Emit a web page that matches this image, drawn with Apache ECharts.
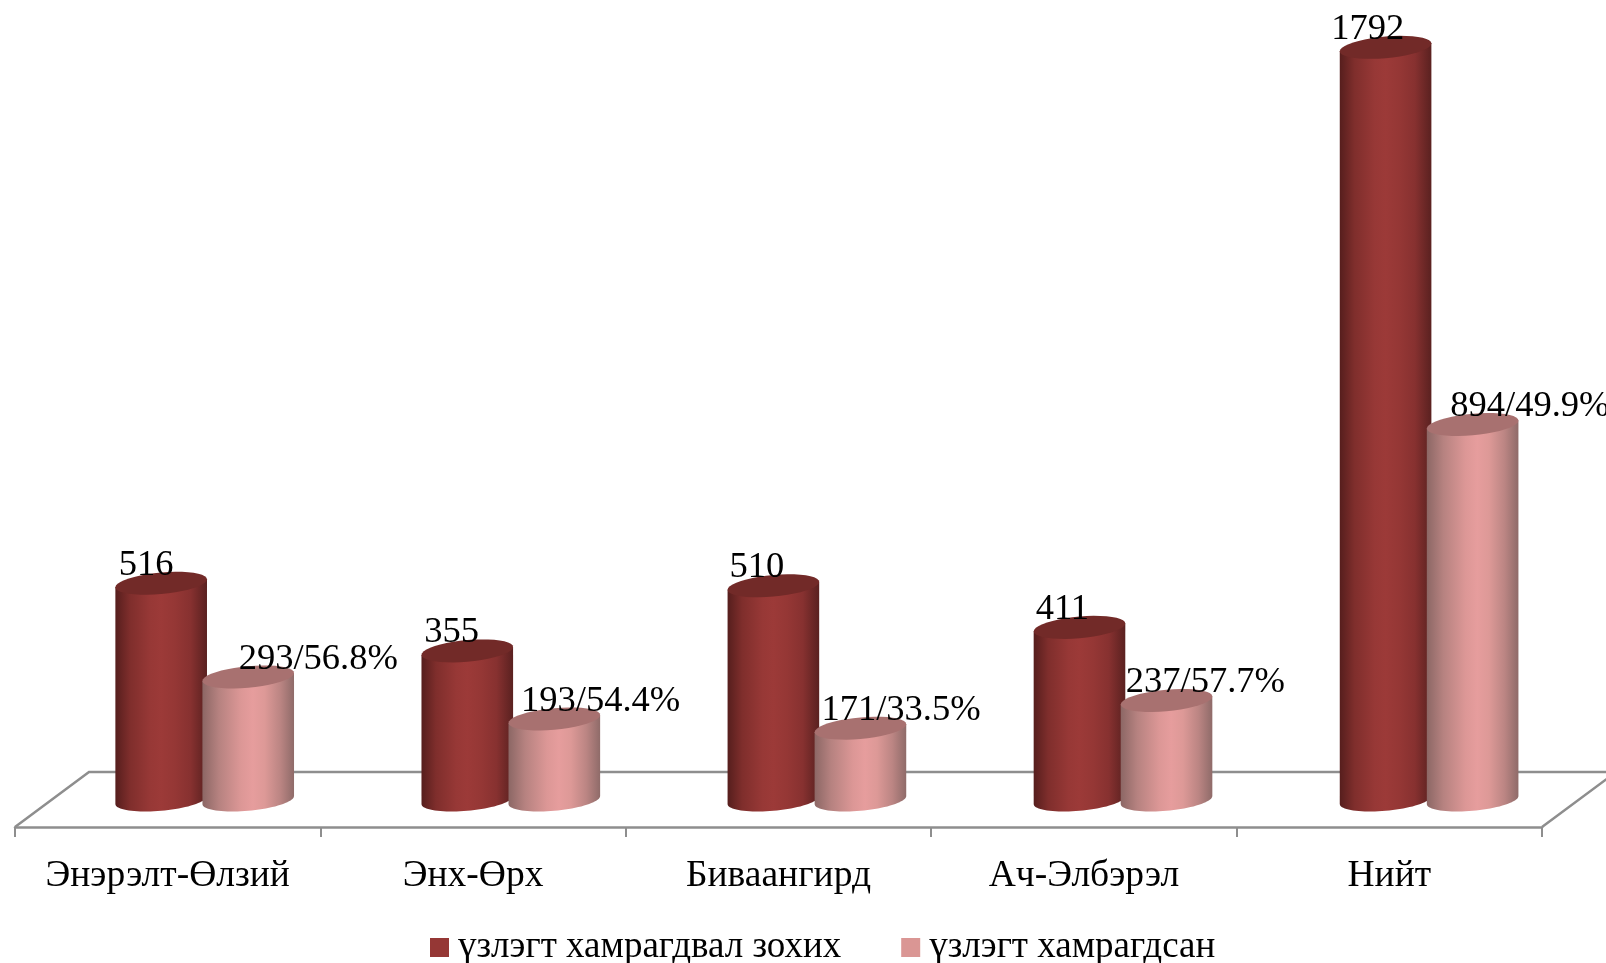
<!DOCTYPE html>
<html>
<head>
<meta charset="utf-8">
<title>үзлэгт хамрагдалт</title>
<script src="https://cdn.jsdelivr.net/npm/echarts@6/dist/echarts.min.js"></script>
<style>
    html, body {margin: 0; padding: 0; background: #fff;}
    #chart {width: 1606px; height: 963px;}
</style>
</head>
<body>
<div id="chart"></div>
<script>
var categories = ['Энэрэлт-Өлзий', 'Энх-Өрх', 'Биваангирд', 'Ач-Элбэрэл', 'Нийт'];
var seriesNames = ['үзлэгт хамрагдвал зохих', 'үзлэгт хамрагдсан'];
var shouldCover = [516, 355, 510, 411, 1792];
var covered = [293, 193, 171, 237, 894];
var coveredPct = ['56.8', '54.4', '33.5', '57.7', '49.9'];

// the labels of the second series were dragged by hand in the original
var coveredLabelShift = [70, 47, 42, 41, 60];

var FONT = '"Liberation Serif", "Times New Roman", serif';
var LINE = '#8e8e8e';
var FLOOR_X = 74, FLOOR_BACK = 28, FLOOR_FRONT = 27;
var BAR_DRIFT = 0.7; // bars step a bit wider than the ticks

var dark = {
    legend: '#953735',
    cap: '#722a28',
    side: [[0, '#561e1d'], [0.16, '#7f2e2c'], [0.38, '#973836'], [0.5, '#9c3a38'], [0.65, '#953735'], [0.82, '#873130'], [1, '#5a2120']]
};
var light = {
    legend: '#da9694',
    cap: '#a87170',
    side: [[0, '#8c6765'], [0.18, '#b68280'], [0.42, '#dc9796'], [0.55, '#e69d9d'], [0.68, '#dd9997'], [0.85, '#bb8583'], [1, '#8f6b69']]
};

// tilted ellipse, the right end sits higher than the left one
function ellipsePoints(cx, cy, a, from, to) {
    var pts = [];
    for (var i = 0; i <= 40; i++) {
        var t = from + (to - from) * i / 40;
        pts.push([cx + a * Math.cos(t), cy - 4 * Math.cos(t) + 10.8 * Math.sin(t)]);
    }
    return pts;
}

function cylinder(look, side, labelFor) {
    return function (params, api) {
        var i = api.value(0);
        var top = api.coord([i, api.value(1)]);
        var base = api.coord([i, 0]);
        var step = api.size([1, 0])[0];
        var a = step * 0.15;
        var labelX = top[0] + FLOOR_X / 2 + side * step * 0.1425;
        var cx = labelX + i * BAR_DRIFT;

        var body = ellipsePoints(cx, base[1], a, Math.PI, 0);
        body.push([cx + a, top[1] - 4]);
        body.push([cx - a, top[1] + 4]);

        var label = labelFor(i);
        return {
            type: 'group',
            children: [
                {
                    type: 'polygon',
                    shape: {points: body},
                    style: {fill: new echarts.graphic.LinearGradient(0, 0, 1, 0, look.side.map(function (s) {
                        return {offset: s[0], color: s[1]};
                    }))}
                },
                {
                    type: 'polygon',
                    shape: {points: ellipsePoints(cx, top[1], a, 0, Math.PI * 2)},
                    style: {fill: look.cap}
                },
                {
                    type: 'text',
                    z2: 20,
                    style: {
                        text: label.text,
                        x: labelX + label.dx,
                        y: top[1] - 18,
                        align: 'center',
                        verticalAlign: 'middle',
                        font: '36.5px ' + FONT,
                        fill: '#000'
                    }
                }
            ]
        };
    };
}

function renderFloor(params) {
    var c = params.coordSys;
    var bottom = c.y + c.height;
    var x0 = c.x, x1 = c.x + c.width;
    return {
        type: 'polyline',
        shape: {points: [
            [x0, bottom + FLOOR_FRONT],
            [x0 + FLOOR_X, bottom - FLOOR_BACK],
            [x1 + FLOOR_X, bottom - FLOOR_BACK],
            [x1, bottom + FLOOR_FRONT]
        ]},
        style: {fill: null, stroke: LINE, lineWidth: 2.5}
    };
}

function rows(values) {
    return values.map(function (v, i) {
        return [i, v];
    });
}

var myChart = echarts.init(document.getElementById('chart'), null, {renderer: 'canvas'});

var option = {
    animation: false,
    backgroundColor: '#fff',
    grid: {left: 15, width: 1527, top: 2, height: 798},
    legend: {
        data: seriesNames,
        left: 425,
        top: 924,
        icon: 'rect',
        itemWidth: 19,
        itemHeight: 19,
        itemGap: 60,
        textStyle: {fontFamily: FONT, fontSize: 37, color: '#000', padding: [0, 0, 0, 4]}
    },
    xAxis: {
        type: 'category',
        data: categories,
        offset: FLOOR_FRONT,
        axisLine: {onZero: false, lineStyle: {color: LINE, width: 2.5}},
        axisTick: {show: true, length: 10, lineStyle: {color: LINE, width: 2}},
        axisLabel: {color: '#000', fontFamily: FONT, fontSize: 37.5, margin: 30, interval: 0}
    },
    yAxis: {type: 'value', min: 0, max: 1900, show: false},
    series: [
        {
            type: 'custom',
            name: 'floor',
            silent: true,
            data: [[0, 0]],
            renderItem: renderFloor
        },
        {
            type: 'custom',
            name: seriesNames[0],
            silent: true,
            itemStyle: {color: dark.legend},
            encode: {x: 0, y: 1},
            data: rows(shouldCover),
            renderItem: cylinder(dark, -1, function (i) {
                return {text: String(shouldCover[i]), dx: -15};
            })
        },
        {
            type: 'custom',
            name: seriesNames[1],
            silent: true,
            itemStyle: {color: light.legend},
            encode: {x: 0, y: 1},
            data: rows(covered),
            renderItem: cylinder(light, 1, function (i) {
                return {text: covered[i] + '/' + coveredPct[i] + '%', dx: coveredLabelShift[i]};
            })
        }
    ]
};

myChart.setOption(option, true);
</script>
</body>
</html>
